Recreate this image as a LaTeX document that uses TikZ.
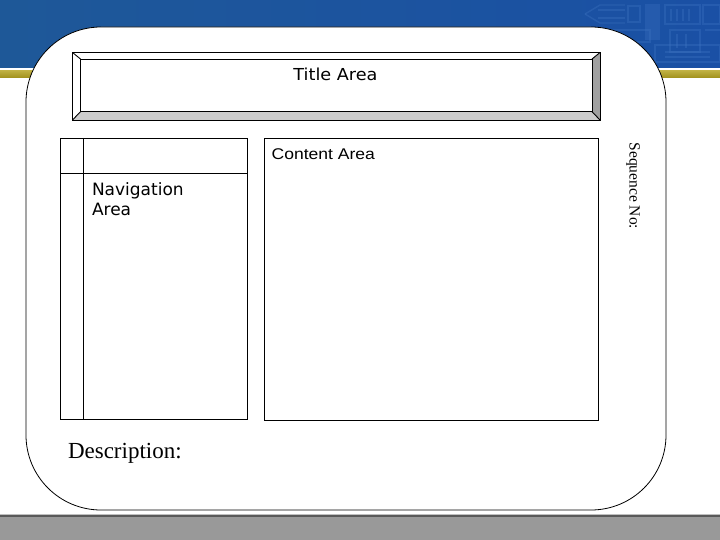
\documentclass[tikz,border=0pt]{standalone}
\usepackage{fontspec}
\setmainfont{Liberation Serif}
\newfontfamily\dvs{DejaVu Sans}
\newfontfamily\lsans{Liberation Sans}
\definecolor{bandblue}{RGB}{30,88,152}
\definecolor{bandblueR}{RGB}{26,80,165}
\definecolor{decoblue}{RGB}{58,112,190}
\definecolor{olive}{RGB}{178,160,30}
\definecolor{bevelB}{RGB}{204,204,204}
\definecolor{bevelR}{RGB}{160,160,160}
\definecolor{footgray}{RGB}{153,153,153}
\tikzset{
  frame/.style={draw=black,line width=0.8pt},
  boxline/.style={draw=black,line width=0.9pt},
  deco/.style={draw=decoblue,line width=1.4pt,opacity=0.4},
  lbl/.style={inner sep=0pt,outer sep=0pt},
}
\begin{document}
\begin{tikzpicture}[x=1pt,y=-1pt]
\useasboundingbox (0,0) rectangle (720,540);
% background band
\shade[left color=bandblue,right color=bandblueR,shading angle=90] (0,0) rectangle (720,68);
\fill[white] (0,68) rectangle (720,71);
\shade[top color=olive!85!white,bottom color=olive!90!black] (0,71) rectangle (720,78);
% decorative pattern top right
\begin{scope}
\clip (520,0) rectangle (720,66);
\draw[deco] (585,14) -- (600,5) -- (625,5);
\draw[deco] (585,14) -- (600,23) -- (625,23);
\draw[deco] (598,10) -- (625,10) (598,18) -- (625,18);
\draw[deco] (628,6) rectangle (640,22);
\fill[decoblue,opacity=0.35] (645,4) rectangle (660,40);
\draw[deco] (665,5) rectangle (700,24);
\draw[deco] (671,9) -- (671,21) (677,9) -- (677,21) (683,9) -- (683,21) (689,9) -- (689,21);
\draw[deco] (703,5) rectangle (720,24);
\draw[deco] (670,30) rectangle (700,52);
\draw[deco] (677,34) -- (677,48) (686,34) -- (686,48);
\draw[deco] (655,45) rectangle (720,62);
\draw[deco] (665,52) -- (710,52) (665,57) -- (710,57);
\draw[deco] (600,30) rectangle (650,42);
\draw[deco] (705,30) -- (720,30);
\end{scope}
% footer
\fill[footgray] (0,515) rectangle (720,540);
\fill[black!65] (0,514.5) rectangle (720,516.5);
\fill[black!25] (0,513.5) rectangle (720,514.5);
% page frame
\draw[frame,fill=white,rounded corners=75pt] (26,27) rectangle (666,510);
% title bevel box
\fill[white] (72.5,52.5) rectangle (600,120);
\fill[bevelB] (72.5,120) -- (80.5,111.7) -- (592,111.7) -- (600,120) -- cycle;
\fill[bevelR] (600,52.5) -- (592,59) -- (592,111.7) -- (600,120) -- cycle;
\draw[boxline] (72.5,52.5) -- (80.5,59) (600,52.5) -- (592,59)
  (72.5,120) -- (80.5,111.7) (600,120) -- (592,111.7);
\draw[boxline] (72.5,52.5) rectangle (600,120);
\node[boxline,lbl,minimum width=511.5pt,minimum height=52.7pt,anchor=north west] (titlebox) at (80.5,59) {};
\node[lbl,anchor=base] (title) at (335.5,80.7) {\dvs\fontsize{16.5}{19}\selectfont\scalebox{1.07}[1]{Title Area}};
% navigation area
\node[boxline,lbl,minimum width=186.3pt,minimum height=281pt,anchor=north west] (nav) at (60.7,138) {};
\coordinate (navTop) at (83,138);
\coordinate (navBot) at (83,419);
\draw[boxline] (navTop) -- (navBot);
\coordinate (navL) at (60.7,173);
\coordinate (navR) at (247,173);
\draw[boxline] (navL) -- (navR);
\node[lbl,anchor=base west] (nav1) at (92,196) {\dvs\fontsize{17}{20}\selectfont Navigation};
\node[lbl,anchor=base west] (nav2) at (92,215.5) {\dvs\fontsize{17}{20}\selectfont Area};
% content area
\node[boxline,lbl,minimum width=334pt,minimum height=282pt,anchor=north west] (content) at (264,138) {};
\node[lbl,anchor=base west] (contentlbl) at (271.7,160) {\lsans\fontsize{15.5}{18}\selectfont\scalebox{1.13}[1]{Content Area}};
% sequence no
\node[lbl,rotate=-90,anchor=base west] (seq) at (629.5,142.7) {\fontsize{15.5}{18}\selectfont Sequence No:};
% description
\node[lbl,anchor=base west] (desc) at (68,458.3) {\fontsize{23}{27}\selectfont Description:};
\end{tikzpicture}
\end{document}
